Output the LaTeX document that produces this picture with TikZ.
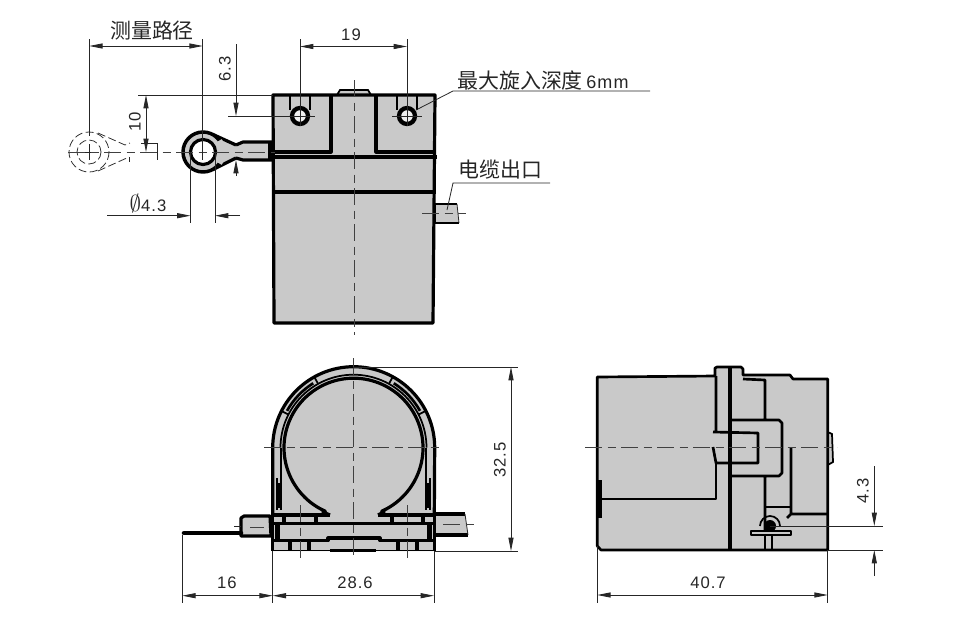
\documentclass[tikz,border=0pt]{standalone}
\usepackage{fontspec}
\setmainfont[LetterSpace=6]{Liberation Sans}
\newfontfamily\cjk{Noto Sans CJK SC}
\usetikzlibrary{arrows.meta,calc}
\definecolor{bodygray}{HTML}{C9C9C9}
\tikzstyle{thick line}=[draw=black,line width=2.4pt,line join=round]
\tikzstyle{side line}=[draw=black,line width=2pt,line join=round]
\tikzstyle{mid line}=[draw=black,line width=1.3pt]
\tikzstyle{thin line}=[draw=black!85,line width=0.6pt]
\tikzstyle{center line}=[draw=black!75,line width=0.6pt,dash pattern=on 13pt off 4pt on 6pt off 4pt]
\tikzstyle{ghost line}=[draw=black!80,line width=0.6pt,dash pattern=on 6pt off 2.5pt]
\tikzstyle{dim line}=[draw=black!85,line width=0.6pt,{Triangle[length=10pt,width=3.8pt]}-{Triangle[length=10pt,width=3.8pt]}]
\tikzstyle{dim one}=[draw=black!85,line width=0.6pt,-{Triangle[length=10pt,width=3.8pt]}]
\tikzstyle{label}=[inner sep=0pt,text=black!85,font=\fontsize{12.5}{13}\selectfont]
\tikzstyle{cjk label}=[inner sep=0pt,text=black!85,font=\fontsize{15.7}{16}\cjk]
% name, start, end
\newcommand{\measure}[3]{\coordinate (#1a) at (#2); \coordinate (#1b) at (#3); \draw[dim line] (#1a) -- (#1b);}
\newcommand{\outward}[3]{\coordinate (#1a) at (#2); \coordinate (#1b) at (#3); \draw[dim one] (#1a) -- (#1b);}
\newcommand{\helper}[3]{\coordinate (#1a) at (#2); \coordinate (#1b) at (#3); \draw[thin line] (#1a) -- (#1b);}
\newcommand{\hole}[1]{\draw[black,line width=3.2pt,fill=white!70!bodygray] (#1) circle[radius=8];}

\begin{document}
\begin{tikzpicture}[x=0.75pt,y=-0.75pt]
    \useasboundingbox (0,0) rectangle (960,636);

    % top view
    \coordinate (topA) at (300,116);
    \coordinate (topB) at (407,116);
    \coordinate (lug) at (203,152);
    \fill[bodygray] (273,95) -- (435,95) -- (433,323) -- (274,323) -- cycle;
    \fill[bodygray] (337,95) -- (340,90) -- (368,90) -- (371,95) -- cycle;
    \fill[bodygray] (435,204) -- (457,204) -- (459,223) -- (435,223) -- cycle;
    \fill[bodygray] (lug) circle[radius=20];
    \fill[bodygray] (212,134) -- (236,143) -- (243,142) -- (273,142) -- (273,160) -- (243,160) -- (236,160) -- (212,170) -- cycle;
    \draw[thick line] (274,323) -- (273,95) -- (435,95) -- (433,323) -- cycle;
    \draw[mid line] (337,95) -- (340,90) -- (368,90) -- (371,95);
    \draw[thick line] (331,95) -- (331,152) -- (273,152);
    \draw[thick line] (376,95) -- (376,152) -- (435,152);
    \draw[thick line] (271,157) -- (437,157);
    \draw[thick line] (272,192) -- (436,192);
    \foreach \hx in {290,310} {
        \draw[mid line] (\hx,95) -- (\hx,110);
        \draw[mid line] (\hx+107,95) -- (\hx+107,110);
    }
    \hole{topA}
    \hole{topB}
    \draw[mid line] (457,204) -- (435,204) -- (435,223) -- (459,223);
    \draw[thin line] (457,204) -- (459,223);

    % lug and its dashed second position
    \draw[thick line] (212,134) -- (236,145) (212,170) -- (236,158);
    \draw[thick line] (236,145) -- (243,142) -- (273,142);
    \draw[thick line] (236,158) -- (243,160) -- (273,160);
    \draw[thick line] (270,141) -- (270,161);
    \draw[black,line width=2.6pt] (lug) circle[radius=20];
    \draw[bodygray,line width=4pt] (lug) ++(35:20) arc[start angle=35,end angle=-35,radius=20];
    \draw[thick line,fill=white] (lug) circle[radius=12.5];
    \coordinate (ghost) at (89,152);
    \draw[ghost line] (ghost) circle[radius=20];
    \draw[ghost line] (ghost) circle[radius=12];
    \draw[ghost line] (98,133) -- (125,145) -- (130,143);
    \draw[ghost line] (98,171) -- (129,157);
    \draw[thin line] (129,157) -- (129,162);
    \draw[thin line] (141,143) -- (157,143) -- (157,160);
    \draw[thin line] (81,152) -- (97,152) (ghost) ++(0,-8) -- ++(0,16);

    % bottom view
    \coordinate (arch) at (353.5,447.7);
    \fill[bodygray] (272.7,551) -- (272.7,447.7) arc[start angle=180,end angle=360,radius=81] -- (434.3,551) -- cycle;
    \fill[bodygray] (242,516) -- (272,516) -- (272,536) -- (242,536) -- cycle;
    \fill[bodygray] (435,514) -- (465,514) -- (468,535) -- (435,535) -- cycle;
    \draw[thick line] (272.7,515) -- (272.7,447.7) arc[start angle=180,end angle=360,radius=81] -- (434.3,515);
    \draw[mid line] (280.5,447.7) arc[start angle=180,end angle=360,radius=73];
    \draw[thick line] (330,515) -- (323,512) -- ($(arch)+(114:69.5)$) arc[start angle=114,end angle=426,radius=69.5] -- (384,512) -- (378,515);
    \foreach \ang in {207,241,299,333} {
        \draw[mid line] (arch) ++(\ang:73) -- ++(\ang:8);
    }
    \foreach \ang/\bng in {209/238,302/331} {
        \draw[line width=2pt] (arch) ++(\ang:76) arc[start angle=\ang,end angle=\bng,radius=76];
    }
    \draw[mid line] (281,447.7) -- (281,510) (426,447.7) -- (426,510);
    \draw[mid line] (277,478) -- (277,510) (430,478) -- (430,510);
    \draw[thick line] (279,483) -- (279,508) (428,483) -- (428,508);
    % feet and base
    \draw[thick line] (273,515) -- (330,515) (378,515) -- (434,515);
    \draw[thick line] (272.7,523.5) -- (434.3,523.5);
    \draw[thick line] (272.7,515) -- (272.7,551) (434.3,515) -- (434.3,551);
    \fill[black] (275,523) rectangle (280,541);
    \fill[black] (427,523) rectangle (432,541);
    \draw[thick line] (273,540.5) -- (328,540.5) -- (328,538) -- (380,538) -- (380,540.5) -- (434,540.5);
    \draw[mid line] (273,550.5) -- (434,550.5);
    \draw[thick line] (330,550.5) -- (376,550.5);
    \foreach \vx in {284,316,392,423} {
        \draw[thick line] (\vx,515) -- (\vx,524);
    }
    \foreach \vx in {290,309,398,417} {
        \draw[thick line] (\vx,541) -- (\vx,551);
    }
    \draw[thick line] (241,536) -- (241,518) -- (244,516) -- (270,516) -- (271,536) -- cycle;
    \draw[black,line width=3.4pt,line cap=round] (184,533) -- (241,533);
    \draw[thick line] (435,514) -- (465,514);
    \draw[thick line] (435,535) -- (468,535);
    \draw[thin line] (465,514) -- (468,535);
    \draw[thin line] (234,526) -- (241,526);

    % side view
    \fill[bodygray] (597.3,377) -- (715,376) -- (715,367) -- (743,367) -- (743,375) -- (790,375) -- (793,379) -- (827.7,379) -- (827.7,550) -- (601,550) -- (597.3,546) -- cycle;
    \fill[bodygray] (827.7,432) -- (832,434) -- (833,462) -- (827.7,465) -- cycle;
    \draw[side line] (597.3,546) -- (597.3,377) -- (715,376) -- (715,368) -- (717,367) -- (741,367) -- (743,369) -- (743,375) -- (790,375) -- (793,379) -- (827.7,379) -- (827.7,550) -- (601,550) -- cycle;
    \draw[mid line] (827.7,432) -- (832,434) -- (833,462) -- (827.7,465);
    \draw[side line] (716,376) -- (716,432) (713,432) -- (758,433) -- (758,463) -- (716,463) -- (713,447);
    \draw[side line] (716,463) -- (716,499) -- (600,499);
    \draw[thick line] (600,480) -- (600,518);
    \draw[thick line] (730,367) -- (730,550);
    \draw[side line] (743,379) -- (765,380) -- (765,420) (730,420) -- (779,420) -- (782,423) -- (782,473) -- (779,476) -- (730,476) (765,476) -- (765,530);
    \draw[mid line] (765,507) -- (790,507);
    \draw[side line] (791,447) -- (791,514) -- (827.7,514) (791,514) -- (787,518);
    \coordinate (pin) at (770,526);
    \draw[mid line] (pin) ++(180:10) arc[start angle=180,end angle=360,radius=10];
    \fill[black] (pin) circle[radius=6];
    \draw[side line,fill=bodygray] (751,531) rectangle (791,535);
    \draw[side line] (765,536) -- (765,550) (772,536) -- (772,550);

    % center lines
    \draw[center line] (354,80) -- (354,335);
    \draw[center line] (68,152) -- (275,152);
    \draw[center line] (422,213) -- (466,213);
    \draw[center line] (353.5,358) -- (353.5,558);
    \draw[center line] (264,447.7) -- (443,447.7);
    \draw[center line] (300,505) -- (300,558);
    \draw[center line] (407,505) -- (407,558);
    \draw[center line] (443,524) -- (475,524);
    \draw[center line] (250,527) -- (264,527);
    \draw[center line] (585,447.7) -- (837,447.7);

    % dimensions of the top view
    \measure{pathlen}{89.3,46}{202.7,46}
    \helper{pathl}{89.3,39}{89.3,136}
    \helper{pathr}{202.7,39}{202.7,160}
    \node[cjk label] (pathtext) at (152,31) {测量路径};
    \measure{pitch}{300,46.5}{407,46.5}
    \helper{pitchl}{300,39}{300,126}
    \helper{pitchr}{407,39}{407,126}
    \node[label] (pitchtext) at (351,34.5) {19};
    \helper{holeline}{228,116}{315,116}
    \helper{holelineb}{392,116}{422,116}
    \outward{sixup}{236,44}{236,116}
    \outward{sixdown}{236,176}{236,160}
    \node[label,rotate=90] (sixtext) at (225,69) {6.3};
    \helper{topedge}{138,95}{273,95}
    \measure{ten}{146,95}{146,152}
    \node[label,rotate=90] (tentext) at (135,122) {10};
    \outward{bore}{107,215.7}{190.5,215.7}
    \outward{borer}{240,215.7}{215,215.7}
    \helper{borel}{190.5,152}{190.5,223}
    \helper{borerr}{215,152}{215,223}
    \node[label] (boretext) at (148,203.5) {\fontsize{17}{17}\selectfont$\emptyset$\fontsize{12.5}{13}\selectfont 4.3};
    \node[cjk label,anchor=west] (depthtext) at (457,80) {最大旋入深度\,{\normalfont\fontsize{13.5}{14}\selectfont 6mm}};
    \coordinate (depthtip) at (416,110);
    \coordinate (depthknee) at (453,91);
    \coordinate (depthend) at (650,91);
    \draw[thin line] (depthtip) -- (depthknee) -- (depthend);
    \node[cjk label,anchor=west] (cabletext) at (458,170) {电缆出口};
    \coordinate (cabletip) at (447,210);
    \coordinate (cableknee) at (453,183);
    \coordinate (cableend) at (550,183);
    \draw[thin line] (cabletip) -- (cableknee) -- (cableend);

    % dimensions of the bottom view
    \measure{height}{511,367}{511,551}
    \helper{heightt}{353,367}{518,367}
    \helper{heightb}{435,551}{518,551}
    \node[label,rotate=90] (heighttext) at (500,460) {32.5};
    \measure{reach}{182.3,595.7}{272.7,595.7}
    \measure{width}{272.7,595.7}{434,595.7}
    \helper{reachl}{182.3,535}{182.3,603}
    \helper{reachr}{272.7,551}{272.7,603}
    \helper{widthr}{434,551}{434,603}
    \node[label] (reachtext) at (227,583) {16};
    \node[label] (widthtext) at (355,583) {28.6};

    % dimensions of the side view
    \measure{length}{597.3,595}{827.7,595}
    \helper{lengthl}{597.3,546}{597.3,603}
    \helper{lengthr}{827.7,550}{827.7,603}
    \node[label] (lengthtext) at (708,583) {40.7};
    \helper{pinline}{770,526}{882.7,526}
    \helper{baseline}{827.7,550}{882.7,550}
    \outward{pinup}{874.3,466}{874.3,526}
    \outward{pindown}{874.3,576}{874.3,550}
    \node[label,rotate=90] (pintext) at (863,491) {4.3};
\end{tikzpicture}
\end{document}
